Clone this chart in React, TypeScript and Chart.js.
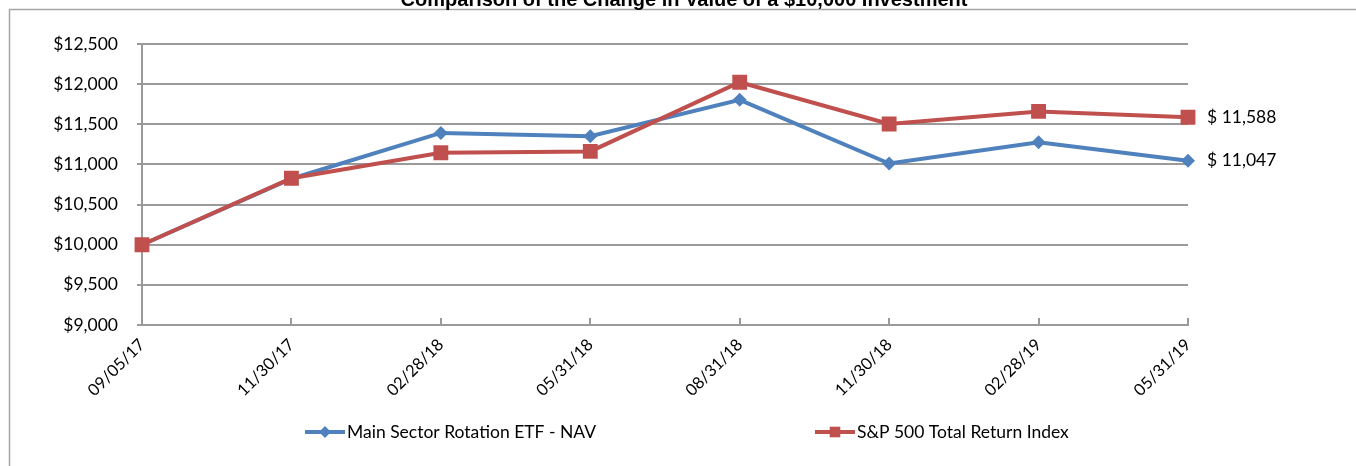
import React, { useEffect, useRef } from 'react';
import { Chart, registerables } from 'chart.js';

Chart.register(...registerables);

const titleText = 'Comparison of the Change in Value of a $10,000 Investment';
const categories = ['09/05/17', '11/30/17', '02/28/18', '05/31/18', '08/31/18', '11/30/18', '02/28/19', '05/31/19'];
const seriesNames = ['Main Sector Rotation ETF - NAV', 'S&P 500 Total Return Index'];
const etfValues = [10000, 10822, 11392, 11352, 11805, 11012, 11276, 11047];
const spValues = [10000, 10828, 11146, 11162, 12024, 11504, 11660, 11588];
const yTicks = [9000, 9500, 10000, 10500, 11000, 11500, 12000, 12500];

const BLUE = '#4F81BD';
const RED = '#C0504D';
const GRID = '#9a9a9a';
const FONT = 'Lato, "Open Sans", sans-serif';

const fmt = (v: number) => '$' + v.toLocaleString('en-US');

const decorPlugin = {
  id: 'decor',
  afterDraw(chart: any) {
    const ctx = chart.ctx as CanvasRenderingContext2D;
    ctx.save();
    // outer frame (left and top edges)
    ctx.strokeStyle = '#a6a6a6';
    ctx.lineWidth = 1.5;
    ctx.beginPath();
    ctx.moveTo(9.5, chart.height);
    ctx.lineTo(9.5, 9.5);
    ctx.lineTo(chart.width, 9.5);
    ctx.stroke();

    // inside tick marks on the category axis
    const xs = chart.scales.x;
    const bottom = chart.chartArea.bottom;
    ctx.strokeStyle = GRID;
    ctx.lineWidth = 2;
    for (let i = 0; i < categories.length; i++) {
      const px = Math.round(xs.getPixelForTick(i));
      ctx.beginPath();
      ctx.moveTo(px, bottom);
      ctx.lineTo(px, bottom - 7);
      ctx.stroke();
    }

    // title (cut at top)
    ctx.fillStyle = '#000';
    ctx.font = 'bold 20px "Liberation Sans", Arial, sans-serif';
    ctx.textAlign = 'center';
    ctx.textBaseline = 'alphabetic';
    ctx.fillText(titleText, 684, 6);

    // end labels
    ctx.font = '17.5px ' + FONT;
    ctx.textAlign = 'left';
    ctx.textBaseline = 'middle';
    chart.data.datasets.forEach((ds: any, i: number) => {
      const meta = chart.getDatasetMeta(i);
      const last = meta.data[meta.data.length - 1];
      const v = ds.data[ds.data.length - 1];
      ctx.fillText('$ ' + v.toLocaleString('en-US'), last.x + 19, last.y);
    });

    // legend
    const legendY = 432;
    const items = [
      { x: 305, color: BLUE, style: 'rectRot', r: 6 },
      { x: 815, color: RED, style: 'rect', r: 7.5 },
    ];
    items.forEach((it, i) => {
      ctx.strokeStyle = it.color;
      ctx.fillStyle = it.color;
      ctx.lineWidth = 4;
      ctx.beginPath();
      ctx.moveTo(it.x, legendY);
      ctx.lineTo(it.x + 40, legendY);
      ctx.stroke();
      const cx = it.x + 20;
      ctx.beginPath();
      if (it.style === 'rect') {
        const s = it.r * Math.SQRT1_2;
        ctx.rect(cx - s, legendY - s, 2 * s, 2 * s);
      } else {
        ctx.moveTo(cx, legendY - it.r);
        ctx.lineTo(cx + it.r, legendY);
        ctx.lineTo(cx, legendY + it.r);
        ctx.lineTo(cx - it.r, legendY);
        ctx.closePath();
      }
      ctx.fill();
      ctx.fillStyle = '#000';
      ctx.font = '17.5px ' + FONT;
      ctx.textAlign = 'left';
      ctx.textBaseline = 'middle';
      ctx.fillText(seriesNames[i], it.x + 42, legendY);
    });
    ctx.restore();
  },
};

export default function App() {
  const ref = useRef<HTMLCanvasElement | null>(null);
  useEffect(() => {
    if (!ref.current) return;
    const chart = new Chart(ref.current, {
      type: 'line',
      data: {
        labels: categories,
        datasets: [
          {
            label: seriesNames[0],
            data: etfValues,
            borderColor: BLUE,
            backgroundColor: BLUE,
            borderWidth: 4,
            pointStyle: 'rectRot',
            pointRadius: 7,
            pointBorderWidth: 0,
            pointBackgroundColor: BLUE,
            tension: 0,
            order: 1,
          },
          {
            label: seriesNames[1],
            data: spValues,
            borderColor: RED,
            backgroundColor: RED,
            borderWidth: 4,
            pointStyle: 'rect',
            pointRadius: 10.5,
            pointBorderWidth: 0,
            pointBackgroundColor: RED,
            tension: 0,
            order: 0,
          },
        ],
      },
      options: {
        animation: false,
        responsive: false,
        devicePixelRatio: 1,
        layout: { padding: { top: 44, right: 168, bottom: 0, left: 0 } },
        plugins: {
          legend: { display: false },
          title: { display: false },
          tooltip: { enabled: false },
        },
        scales: {
          x: {
            type: 'category',
            offset: false,
            afterFit: (s: any) => { s.height = 141; },
            grid: {
              display: true,
              drawOnChartArea: false,
              drawTicks: false,
            },
            border: { display: true, color: GRID, width: 2 },
            ticks: {
              autoSkip: false,
              minRotation: 45,
              maxRotation: 45,
              padding: 10,
              color: '#000',
              font: { family: FONT, size: 16.5 },
            },
          },
          y: {
            min: yTicks[0],
            max: yTicks[yTicks.length - 1],
            afterFit: (s: any) => { s.width = 142; },
            afterBuildTicks: (s: any) => { s.ticks = yTicks.map((v) => ({ value: v })); },
            grid: {
              color: GRID,
              lineWidth: 2,
              drawTicks: true,
              tickLength: 5,
            },
            border: { display: true, color: GRID, width: 2 },
            ticks: {
              padding: 19,
              color: '#000',
              font: { family: FONT, size: 17.5 },
              callback: (v: any) => fmt(Number(v)),
            },
          },
        },
      },
      plugins: [decorPlugin],
    });
    return () => chart.destroy();
  }, []);
  return (
    <div style={{ position: 'absolute', left: 0, top: 0, width: 1356, height: 466, background: '#fff' }}>
      <canvas ref={ref} width={1356} height={466} style={{ display: 'block', width: 1356, height: 466 }} />
    </div>
  );
}
